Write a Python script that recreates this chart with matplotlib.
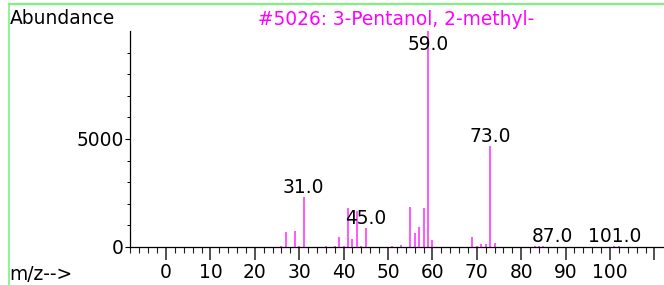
import matplotlib
matplotlib.use("Agg")
import matplotlib.pyplot as plt
from matplotlib.lines import Line2D
from matplotlib.ticker import MultipleLocator, FixedLocator

# ---- data ----
mz = [26, 27, 29, 30, 31, 36, 38, 39, 40, 41, 42, 43, 44, 45, 51, 53,
      55, 56, 57, 58, 59, 60, 69, 70, 71, 72, 73, 74, 83, 84, 85, 87, 101, 102]
abundance = [30, 710, 740, 60, 2315, 30, 40, 463, 60, 1790, 386, 1667, 60, 864, 25, 70,
             1870, 634, 940, 1790, 9999, 324, 448, 60, 140, 140, 4676, 200, 25, 30, 50, 10, 35, 30]
labeled_mz = [31, 45, 59, 73, 87, 101]
x_tick_labels = [0, 10, 20, 30, 40, 50, 60, 70, 80, 90, 100]
y_tick_labels = [0, 5000]
title = "#5026: 3-Pentanol, 2-methyl-"

W, H = 664, 285
fig = plt.figure(figsize=(W / 100, H / 100), dpi=100)
FS = 13.4
FONT = "DejaVu Sans"

# axes geometry (pixels)
left_px, right_px = 130, 663
bottom_px, top_px = 247, 31
ax = fig.add_axes([left_px / W, (H - bottom_px) / H, (right_px - left_px) / W, (bottom_px - top_px) / H])
x0_px, px_per_unit = 166.0, 4.44
ax.set_xlim((left_px - x0_px) / px_per_unit, (right_px - x0_px) / px_per_unit)
ax.set_ylim(0, 10000)

bar_color = "#ff3cff"
ax.vlines(mz, 0, abundance, color=bar_color, lw=1.2)

for spine in ("top", "right"):
    ax.spines[spine].set_visible(False)
for spine in ("left", "bottom"):
    ax.spines[spine].set_linewidth(0.9)
    ax.spines[spine].set_color("black")

ax.set_xticks(x_tick_labels + [110])
ax.set_xticklabels([str(t) for t in x_tick_labels] + [""])
ax.xaxis.set_minor_locator(MultipleLocator(2))
ax.set_yticks(y_tick_labels)
ax.set_yticklabels([str(t) for t in y_tick_labels])
ax.yaxis.set_minor_locator(FixedLocator([1000, 2000, 3000, 4000, 6000, 7000, 8000, 9000]))
ax.tick_params(axis="x", which="major", length=9.3, width=1.1, pad=2.5, labelsize=FS, color="#222222")
ax.tick_params(axis="x", which="minor", length=4.0, width=0.8, color="#222222")
ax.tick_params(axis="y", which="major", length=3.5, width=0.8, pad=1.2, labelsize=FS)
ax.tick_params(axis="y", which="minor", length=2.0, width=0.7)
for lab in ax.get_xticklabels() + ax.get_yticklabels():
    lab.set_fontfamily(FONT)

# peak labels
for m, a in zip(mz, abundance):
    if m in labeled_mz:
        ax.annotate(f"{m:.1f}", xy=(m, min(a, 8900)), xytext=(0, 3.2), textcoords="offset points",
                    ha="center", va="baseline", fontsize=FS, family=FONT, color="black")

# texts
fig.text(10 / W, 1 - 18.5 / H, "Abundance", fontsize=FS, family=FONT, ha="left", va="center")
fig.text(396 / W, 1 - 19.5 / H, title, fontsize=FS, family=FONT, ha="center", va="center", color="#ff00ff")
fig.text(9 / W, 1 - 274 / H, "m/z-->", fontsize=FS, family=FONT, ha="left", va="center")

# green frame lines
green = "#80f080"
fig.add_artist(Line2D([8.5 / W, 1], [1 - 4 / H, 1 - 4 / H], transform=fig.transFigure, color=green, lw=1.6))
fig.add_artist(Line2D([8.5 / W, 8.5 / W], [0, 1 - 4 / H], transform=fig.transFigure, color=green, lw=1.2))

fig.savefig("out.png", dpi=100)
